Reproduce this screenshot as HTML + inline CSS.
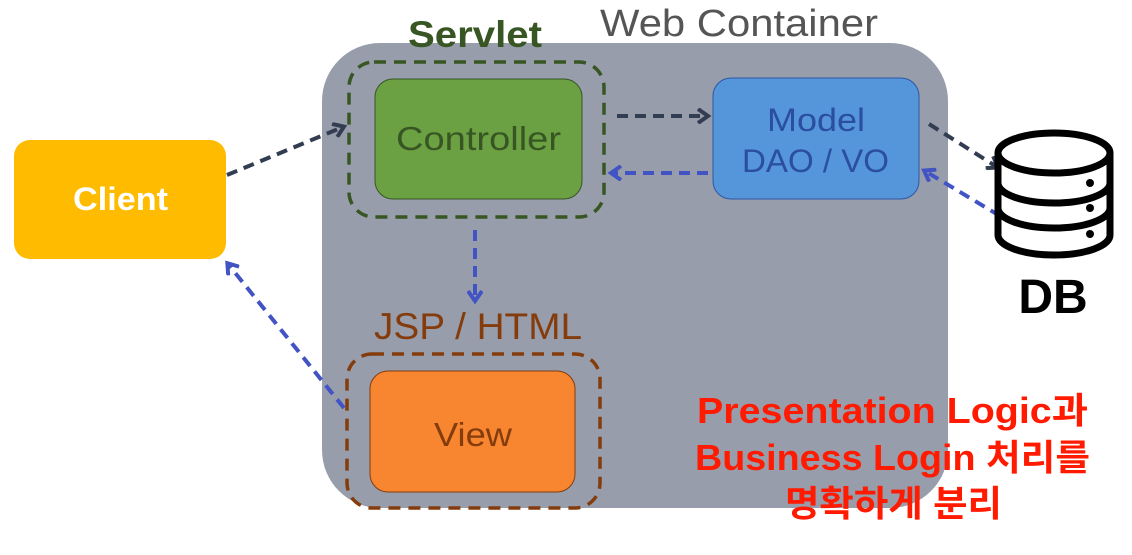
<!DOCTYPE html>
<html><head><meta charset="utf-8"><style>
html,body{margin:0;padding:0;background:#fff;width:1132px;height:555px;overflow:hidden}
text{font-family:"Liberation Sans","Noto Sans CJK KR",sans-serif}
</style></head><body>
<svg width="1132" height="555" viewBox="0 0 1132 555" xmlns="http://www.w3.org/2000/svg">
<defs>
<marker id="ad" markerWidth="16" markerHeight="16" refX="11" refY="8" orient="auto" markerUnits="userSpaceOnUse"><path d="M2,1 L12,8 L2,15" fill="none" stroke="#333d52" stroke-width="4"/></marker>
<marker id="ab" markerWidth="16" markerHeight="16" refX="11" refY="8" orient="auto" markerUnits="userSpaceOnUse"><path d="M2,1 L12,8 L2,15" fill="none" stroke="#4253c4" stroke-width="4"/></marker>
</defs>
<rect x="322" y="43" width="626" height="465" rx="58" fill="#979dab"/>
<text x="600" y="36" font-size="38" fill="#555" textLength="278" lengthAdjust="spacingAndGlyphs">Web Container</text>
<text x="408" y="47" font-size="37" fill="#375623" font-weight="bold" textLength="134" lengthAdjust="spacingAndGlyphs">Servlet</text>
<rect x="349" y="62" width="255" height="155" rx="25" fill="none" stroke="#375623" stroke-width="3.5" stroke-dasharray="12,8"/>
<rect x="375" y="79" width="207" height="120" rx="18" fill="#6ba043" stroke="#375623" stroke-width="1"/>
<text x="396" y="150" font-size="33" fill="#375623" textLength="165" lengthAdjust="spacingAndGlyphs">Controller</text>
<rect x="713" y="78" width="206" height="121" rx="18" fill="#5596db" stroke="#2f55a0" stroke-width="1"/>
<text x="767" y="131" font-size="32" fill="#2b4ea0" textLength="98" lengthAdjust="spacingAndGlyphs">Model</text>
<text x="742" y="172" font-size="32" fill="#2b4ea0" textLength="147" lengthAdjust="spacingAndGlyphs">DAO / VO</text>
<rect x="14" y="140" width="212" height="119" rx="16" fill="#ffbb00"/>
<text x="73" y="210" font-size="32" fill="#fff" font-weight="bold" textLength="95" lengthAdjust="spacingAndGlyphs">Client</text>
<text x="374" y="339" font-size="37" fill="#843c0c" textLength="208" lengthAdjust="spacingAndGlyphs">JSP / HTML</text>
<rect x="347" y="354" width="253" height="154" rx="25" fill="none" stroke="#843c0c" stroke-width="3.5" stroke-dasharray="12,8"/>
<rect x="370" y="371" width="205" height="121" rx="18" fill="#f8852f" stroke="#843c0c" stroke-width="1"/>
<text x="434" y="446" font-size="33" fill="#843c0c" textLength="78" lengthAdjust="spacingAndGlyphs">View</text>
<line x1="227" y1="175" x2="343" y2="127" stroke="#333d52" stroke-width="4" stroke-dasharray="11,7" marker-end="url(#ad)"/>
<line x1="617" y1="116" x2="707" y2="116" stroke="#333d52" stroke-width="4" stroke-dasharray="11,7" marker-end="url(#ad)"/>
<line x1="708" y1="173" x2="612" y2="173" stroke="#4253c4" stroke-width="4" stroke-dasharray="11,7" marker-end="url(#ab)"/>
<line x1="475" y1="230" x2="475" y2="300" stroke="#4253c4" stroke-width="4" stroke-dasharray="11,7" marker-end="url(#ab)"/>
<line x1="344" y1="408" x2="228" y2="264" stroke="#4253c4" stroke-width="4" stroke-dasharray="11,7" marker-end="url(#ab)"/>
<line x1="929" y1="124" x2="997" y2="167" stroke="#333d52" stroke-width="4" stroke-dasharray="11,7" marker-end="url(#ad)"/>
<line x1="1000" y1="216" x2="925" y2="171" stroke="#4253c4" stroke-width="4" stroke-dasharray="11,7" marker-end="url(#ab)"/>
<g fill="none" stroke="#000" stroke-width="7">
<path d="M998,153 L998,235 A56,20 0 0 0 1110,235 L1110,153"/>
<ellipse cx="1054" cy="153" rx="56" ry="20" fill="#fff"/>
<path d="M998,183 A56,20 0 0 0 1110,183"/>
<path d="M998,208 A56,20 0 0 0 1110,208"/>
</g>
<circle cx="1090" cy="183" r="4" fill="#000"/>
<circle cx="1090" cy="208" r="4" fill="#000"/>
<circle cx="1090" cy="234" r="4" fill="#000"/>
<text x="1053" y="313" font-size="48" font-weight="bold" fill="#000" text-anchor="middle">DB</text>
<g font-size="36" font-weight="bold" fill="#ff1a00">
<text x="697" y="423" textLength="391" lengthAdjust="spacingAndGlyphs">Presentation Logic과</text>
<text x="695" y="470" textLength="395" lengthAdjust="spacingAndGlyphs">Business Login 처리를</text>
<text x="785" y="516" textLength="217" lengthAdjust="spacingAndGlyphs">명확하게 분리</text>
</g>
</svg>
</body></html>
